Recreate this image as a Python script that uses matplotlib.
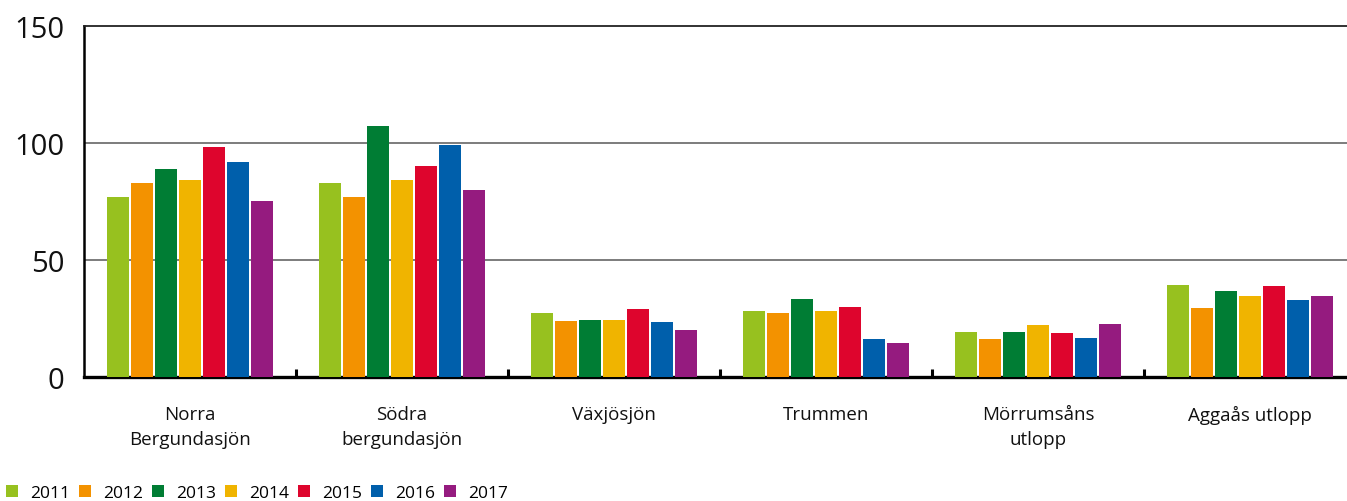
import matplotlib
matplotlib.use("Agg")
import matplotlib.pyplot as plt
import numpy as np

plt.rcParams['font.family'] = ['Open Sans', 'DejaVu Sans']

categories = ["Norra\nBergundasjön", "Södra\nbergundasjön", "Växjösjön",
              "Trummen", "Mörrumsåns\nutlopp", "Aggaås utlopp"]
years = ["2011", "2012", "2013", "2014", "2015", "2016", "2017"]
colors = ["#97C11F", "#F39200", "#007D34", "#F0B400", "#DE052D", "#005FAB", "#951B7F"]

v2011 = [77, 83, 27.4, 28.2, 19.2, 39.3]
v2012 = [83, 77, 24.0, 27.4, 16.2, 29.5]
v2013 = [89, 107, 24.4, 33.3, 19.2, 36.8]
v2014 = [84, 84, 24.4, 28.2, 22.2, 34.6]
v2015 = [98, 90, 29.1, 30.0, 18.8, 38.9]
v2016 = [92, 99, 23.5, 16.2, 16.7, 32.9]
v2017 = [75, 80, 20.1, 14.5, 22.6, 34.6]
series = [v2011, v2012, v2013, v2014, v2015, v2016, v2017]

W, H = 1347, 502
fig = plt.figure(figsize=(W / 100, H / 100), dpi=100)
ax = fig.add_axes([84 / W, 124 / H, 1272 / W, 351.3 / H])

x = np.arange(len(categories))
step = 0.113
width = 0.104
for i, (vals, col, yr) in enumerate(zip(series, colors, years)):
    ax.bar(x + (i - 3) * step, vals, width=width, color=col, label=yr, zorder=3)

ax.set_xlim(-0.5, len(categories) - 0.5)
ax.set_ylim(0, 150)
ax.set_yticks([0, 50, 100, 150])
ax.tick_params(axis='y', length=0, labelsize=21, pad=14, labelcolor='#111111')

# gridlines at 50 and 100, dark line at the top
for yv in (50, 100):
    ax.axhline(yv, color='#666666', lw=1.2, zorder=1)
ax.spines['right'].set_visible(False)
ax.spines['top'].set_color('#222222')
ax.spines['top'].set_linewidth(1.3)
ax.spines['left'].set_linewidth(1.8)
ax.spines['bottom'].set_linewidth(2.4)
ax.spines['bottom'].set_zorder(2)

# category labels at group centres, tick marks at group boundaries
ax.set_xticks(x)
ax.set_xticklabels(categories, fontsize=13.5, linespacing=1.5, color='#111111')
ax.tick_params(axis='x', which='major', length=0, pad=20)
ax.set_xticks(np.arange(0.5, len(categories) - 0.5, 1.0), minor=True)
ax.tick_params(axis='x', which='minor', direction='in', length=6, width=2.2, color='black')

leg = fig.legend(loc='center left', bbox_to_anchor=(6 / W, 8 / H), ncol=7, frameon=False,
                 fontsize=12.5, handlelength=0.7, handleheight=0.7, handletextpad=0.7,
                 columnspacing=0.5, borderaxespad=0, borderpad=0)

fig.savefig("out.png", dpi=100)
